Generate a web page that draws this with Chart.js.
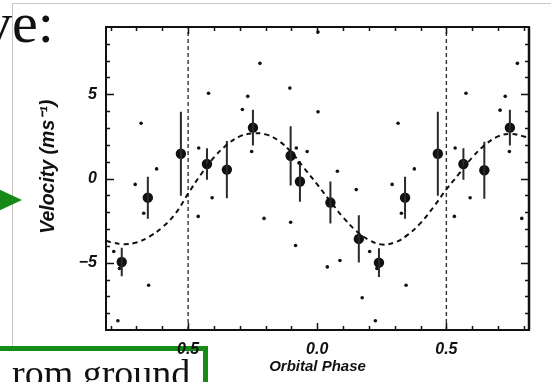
<!DOCTYPE html>
<html>
<head>
<meta charset="utf-8">
<script src="https://cdn.jsdelivr.net/npm/chart.js@4.4.1/dist/chart.umd.min.js"></script>
<style>
  html, body { margin: 0; padding: 0; background: #fff; }
  body { position: relative; width: 551px; height: 382px; overflow: hidden; }
  #frame { position: absolute; left: 12px; top: 3px; width: 600px; height: 420px;
           border-left: 1px solid #c6c6c6; border-top: 1px solid #c6c6c6; }
  #box { position: absolute; left: -20px; top: 346px; width: 228px; height: 80px;
         box-sizing: border-box; border: 5px solid #168a16; background: #fff; }
  #wrap { position: absolute; left: 0; top: 0; width: 551px; height: 382px; }
  .serif { position: absolute; font-family: 'Liberation Serif', 'Times New Roman', serif;
           color: #111; white-space: nowrap; line-height: 1; }
  #ve { left: -17px; top: -6px; font-size: 58px; }
  #ground { left: 12px; top: 354px; font-size: 38px; }
  #arrow { position: absolute; left: 0; top: 0; }
</style>
</head>
<body>
<div id="frame"></div>
<div id="box"></div>
<div id="wrap"><canvas id="rvChart" width="551" height="382"></canvas></div>
<div class="serif" id="ve">ve:</div>
<div class="serif" id="ground">rom ground</div>
<svg id="arrow" width="30" height="382"><polygon points="-6,187 22,200 -6,213" fill="#168a16"/></svg>
<script>
// ── Axis setup ─────────────────────────────────────────────
const X_MIN = -0.818, X_MAX = 0.82;
const Y_MIN = -9, Y_MAX = 9;
const X_TICKS = [-0.5, 0.0, 0.5];
const X_TICK_LABELS = ['0.5', '0.0', '0.5'];
const Y_TICKS = [-5, 0, 5];
const Y_TICK_LABELS = ['\u22125', '0', '5'];
const X_MINOR = [-0.8, -0.7, -0.6, -0.5, -0.4, -0.3, -0.2, -0.1, 0.0, 0.1, 0.2, 0.3, 0.4, 0.5, 0.6, 0.7, 0.8];
const Y_MINOR = [-8, -7, -6, -5, -4, -3, -2, -1, 0, 1, 2, 3, 4, 5, 6, 7, 8];
const PHASE_MARKS = [-0.5, 0.5];

// ── Binned velocities (big dots + error bars) ──────────────
const BIN_PHASE = [-0.757, -0.656, -0.528, -0.427, -0.350, -0.249, -0.103, -0.067,
                   0.051, 0.161, 0.239, 0.340, 0.467, 0.566, 0.647, 0.746];
const BIN_VEL   = [-4.96, -1.14, 1.47, 0.86, 0.53, 3.02, 1.35, -0.18,
                   -1.43, -3.59, -5.00, -1.14, 1.47, 0.86, 0.49, 3.02];
const BIN_ERR   = [0.85, 1.25, 2.5, 0.93, 1.7, 1.06, 1.76, 1.2,
                   1.25, 1.4, 0.85, 1.25, 2.5, 0.93, 1.7, 1.06];

// ── Individual measurements (small dots) ───────────────────
const DOT_PHASE = [-0.421, 0.576, -0.269, 0.728, -0.222, 0.775, -0.106, -0.682, 0.313,
                   -0.622, 0.376, -0.705, 0.290, -0.459, 0.534, -0.407, 0.592, -0.290, 0.708,
                   -0.254, 0.744, -0.081, -0.039, 0.003, 0.003, 0.078, 0.151, -0.672, 0.326,
                   -0.653, 0.344, -0.772, 0.225, -0.461, 0.531, -0.206, 0.792, -0.103, -0.084,
                   0.039, 0.088, 0.174, -0.788, 0.203, -0.766, 0.231, -0.071];
const DOT_VEL   = [5.06, 5.06, 4.88, 4.88, 6.84, 6.84, 5.37, 3.28, 3.28,
                   0.57, 0.57, -0.35, -0.35, 1.81, 1.81, -1.14, -1.14, 4.10, 4.06,
                   1.60, 1.60, 1.81, 1.60, 3.96, 8.70, 0.43, -0.66, -2.06, -2.06,
                   -6.34, -6.34, -8.45, -8.45, -2.25, -2.25, -2.37, -2.37, -2.60, -3.98,
                   -5.25, -4.87, -7.08, -4.34, -4.34, -5.35, -5.35, 0.92];

// ── Orbit fit (dashed curve) ───────────────────────────────
const CURVE_PHASE = [-0.818, -0.80, -0.75, -0.70, -0.65, -0.60, -0.55, -0.50, -0.45, -0.40,
                     -0.35, -0.30, -0.25, -0.20, -0.15, -0.10, -0.05, 0.00, 0.05, 0.10,
                     0.15, 0.20, 0.25, 0.30, 0.35, 0.40, 0.45, 0.50, 0.55, 0.60,
                     0.65, 0.70, 0.75, 0.80, 0.82];
const CURVE_VEL   = [-3.70, -3.78, -3.90, -3.80, -3.45, -2.90, -2.10, -0.90, 0.25, 1.25,
                     2.00, 2.50, 2.68, 2.62, 2.25, 1.55, 0.60, -0.35, -1.35, -2.30,
                     -3.10, -3.65, -3.92, -3.80, -3.35, -2.65, -1.70, -0.65, 0.30, 1.25,
                     2.00, 2.50, 2.65, 2.50, 2.38];

const INK = '#111';
const AXIS_FONT = "'Liberation Sans', Arial, Helvetica, sans-serif";

const errorBars = [];
BIN_PHASE.forEach((p, i) => {
  errorBars.push({ x: p, y: BIN_VEL[i] - BIN_ERR[i] }, { x: p, y: BIN_VEL[i] + BIN_ERR[i] }, { x: p, y: null });
});
const phaseLines = [];
PHASE_MARKS.forEach((p) => {
  phaseLines.push({ x: p, y: Y_MIN }, { x: p, y: Y_MAX }, { x: p, y: null });
});

// inward ticks + box frame, IDL style
const innerTicks = {
  id: 'innerTicks',
  afterDatasetsDraw(chart) {
    const { ctx, chartArea: a, scales: { x, y } } = chart;
    ctx.save();
    ctx.strokeStyle = INK;
    ctx.lineWidth = 1.5;
    ctx.beginPath();
    X_MINOR.forEach((v) => {
      const px = Math.round(x.getPixelForValue(v)) + 0.5;
      const len = X_TICKS.includes(v) ? 7 : 4;
      ctx.moveTo(px, a.bottom); ctx.lineTo(px, a.bottom - len);
      ctx.moveTo(px, a.top); ctx.lineTo(px, a.top + len);
    });
    Y_MINOR.forEach((v) => {
      const py = Math.round(y.getPixelForValue(v)) + 0.5;
      const len = Y_TICKS.includes(v) ? 8 : 4;
      ctx.moveTo(a.left, py); ctx.lineTo(a.left + len, py);
      ctx.moveTo(a.right, py); ctx.lineTo(a.right - len, py);
    });
    ctx.stroke();
    ctx.lineWidth = 2;
    ctx.strokeRect(a.left, a.top, a.right - a.left, a.bottom - a.top);
    // right edge is drawn heavier in the original
    ctx.lineWidth = 2.5;
    ctx.beginPath();
    ctx.moveTo(a.right, a.top); ctx.lineTo(a.right, a.bottom);
    ctx.stroke();
    ctx.restore();
  },
};

const tickFont = { family: AXIS_FONT, size: 16, weight: 'bold', style: 'italic' };

new Chart(document.getElementById('rvChart').getContext('2d'), {
  type: 'line',
  data: {
    datasets: [
      {
        data: CURVE_PHASE.map((p, i) => ({ x: p, y: CURVE_VEL[i] })),
        borderColor: INK, borderWidth: 2, borderDash: [5, 4],
        pointRadius: 0, tension: 0.4, fill: false,
      },
      {
        data: phaseLines,
        borderColor: '#333', borderWidth: 1.4, borderDash: [4, 3],
        pointRadius: 0, spanGaps: false,
      },
      {
        data: errorBars,
        borderColor: '#2a2a2a', borderWidth: 2,
        pointRadius: 0, spanGaps: false,
      },
      {
        data: DOT_PHASE.map((p, i) => ({ x: p, y: DOT_VEL[i] })),
        showLine: false, pointRadius: 1.8, pointBackgroundColor: INK, pointBorderWidth: 0,
      },
      {
        data: BIN_PHASE.map((p, i) => ({ x: p, y: BIN_VEL[i] })),
        showLine: false, pointRadius: 5.2, pointBackgroundColor: INK, pointBorderWidth: 0,
      },
    ],
  },
  options: {
    responsive: false,
    animation: false,
    layout: { padding: { top: 27, right: 22, left: 0, bottom: 0 } },
    plugins: { legend: { display: false }, tooltip: { enabled: false } },
    scales: {
      x: {
        type: 'linear', min: X_MIN, max: X_MAX,
        grid: { display: false, drawTicks: false },
        border: { display: false },
        afterBuildTicks: (s) => { s.ticks = X_TICKS.map((v) => ({ value: v })); },
        afterFit: (s) => { s.height = 52; },
        ticks: {
          padding: 10, color: INK, font: tickFont, maxRotation: 0, autoSkip: false,
          callback: (v, i) => X_TICK_LABELS[i],
        },
        title: {
          display: true, text: 'Orbital Phase', color: INK,
          font: { family: AXIS_FONT, size: 15, weight: 'bold', style: 'italic' },
          padding: { top: 0, bottom: 6 },
        },
      },
      y: {
        type: 'linear', min: Y_MIN, max: Y_MAX,
        grid: { display: false, drawTicks: false },
        border: { display: false },
        afterBuildTicks: (s) => { s.ticks = Y_TICKS.map((v) => ({ value: v })); },
        afterFit: (s) => { s.width = 106; },
        ticks: {
          padding: 9, color: INK, font: tickFont,
          callback: (v, i) => Y_TICK_LABELS[i],
        },
        title: {
          display: true, text: '\u2002\u2002\u2009Velocity (ms\u207B\u00B9)', color: INK,
          font: { family: AXIS_FONT, size: 19.5, weight: 'bold', style: 'italic' },
          padding: { top: 37, bottom: 0 },
        },
      },
    },
  },
  plugins: [innerTicks],
});
</script>
</body>
</html>
